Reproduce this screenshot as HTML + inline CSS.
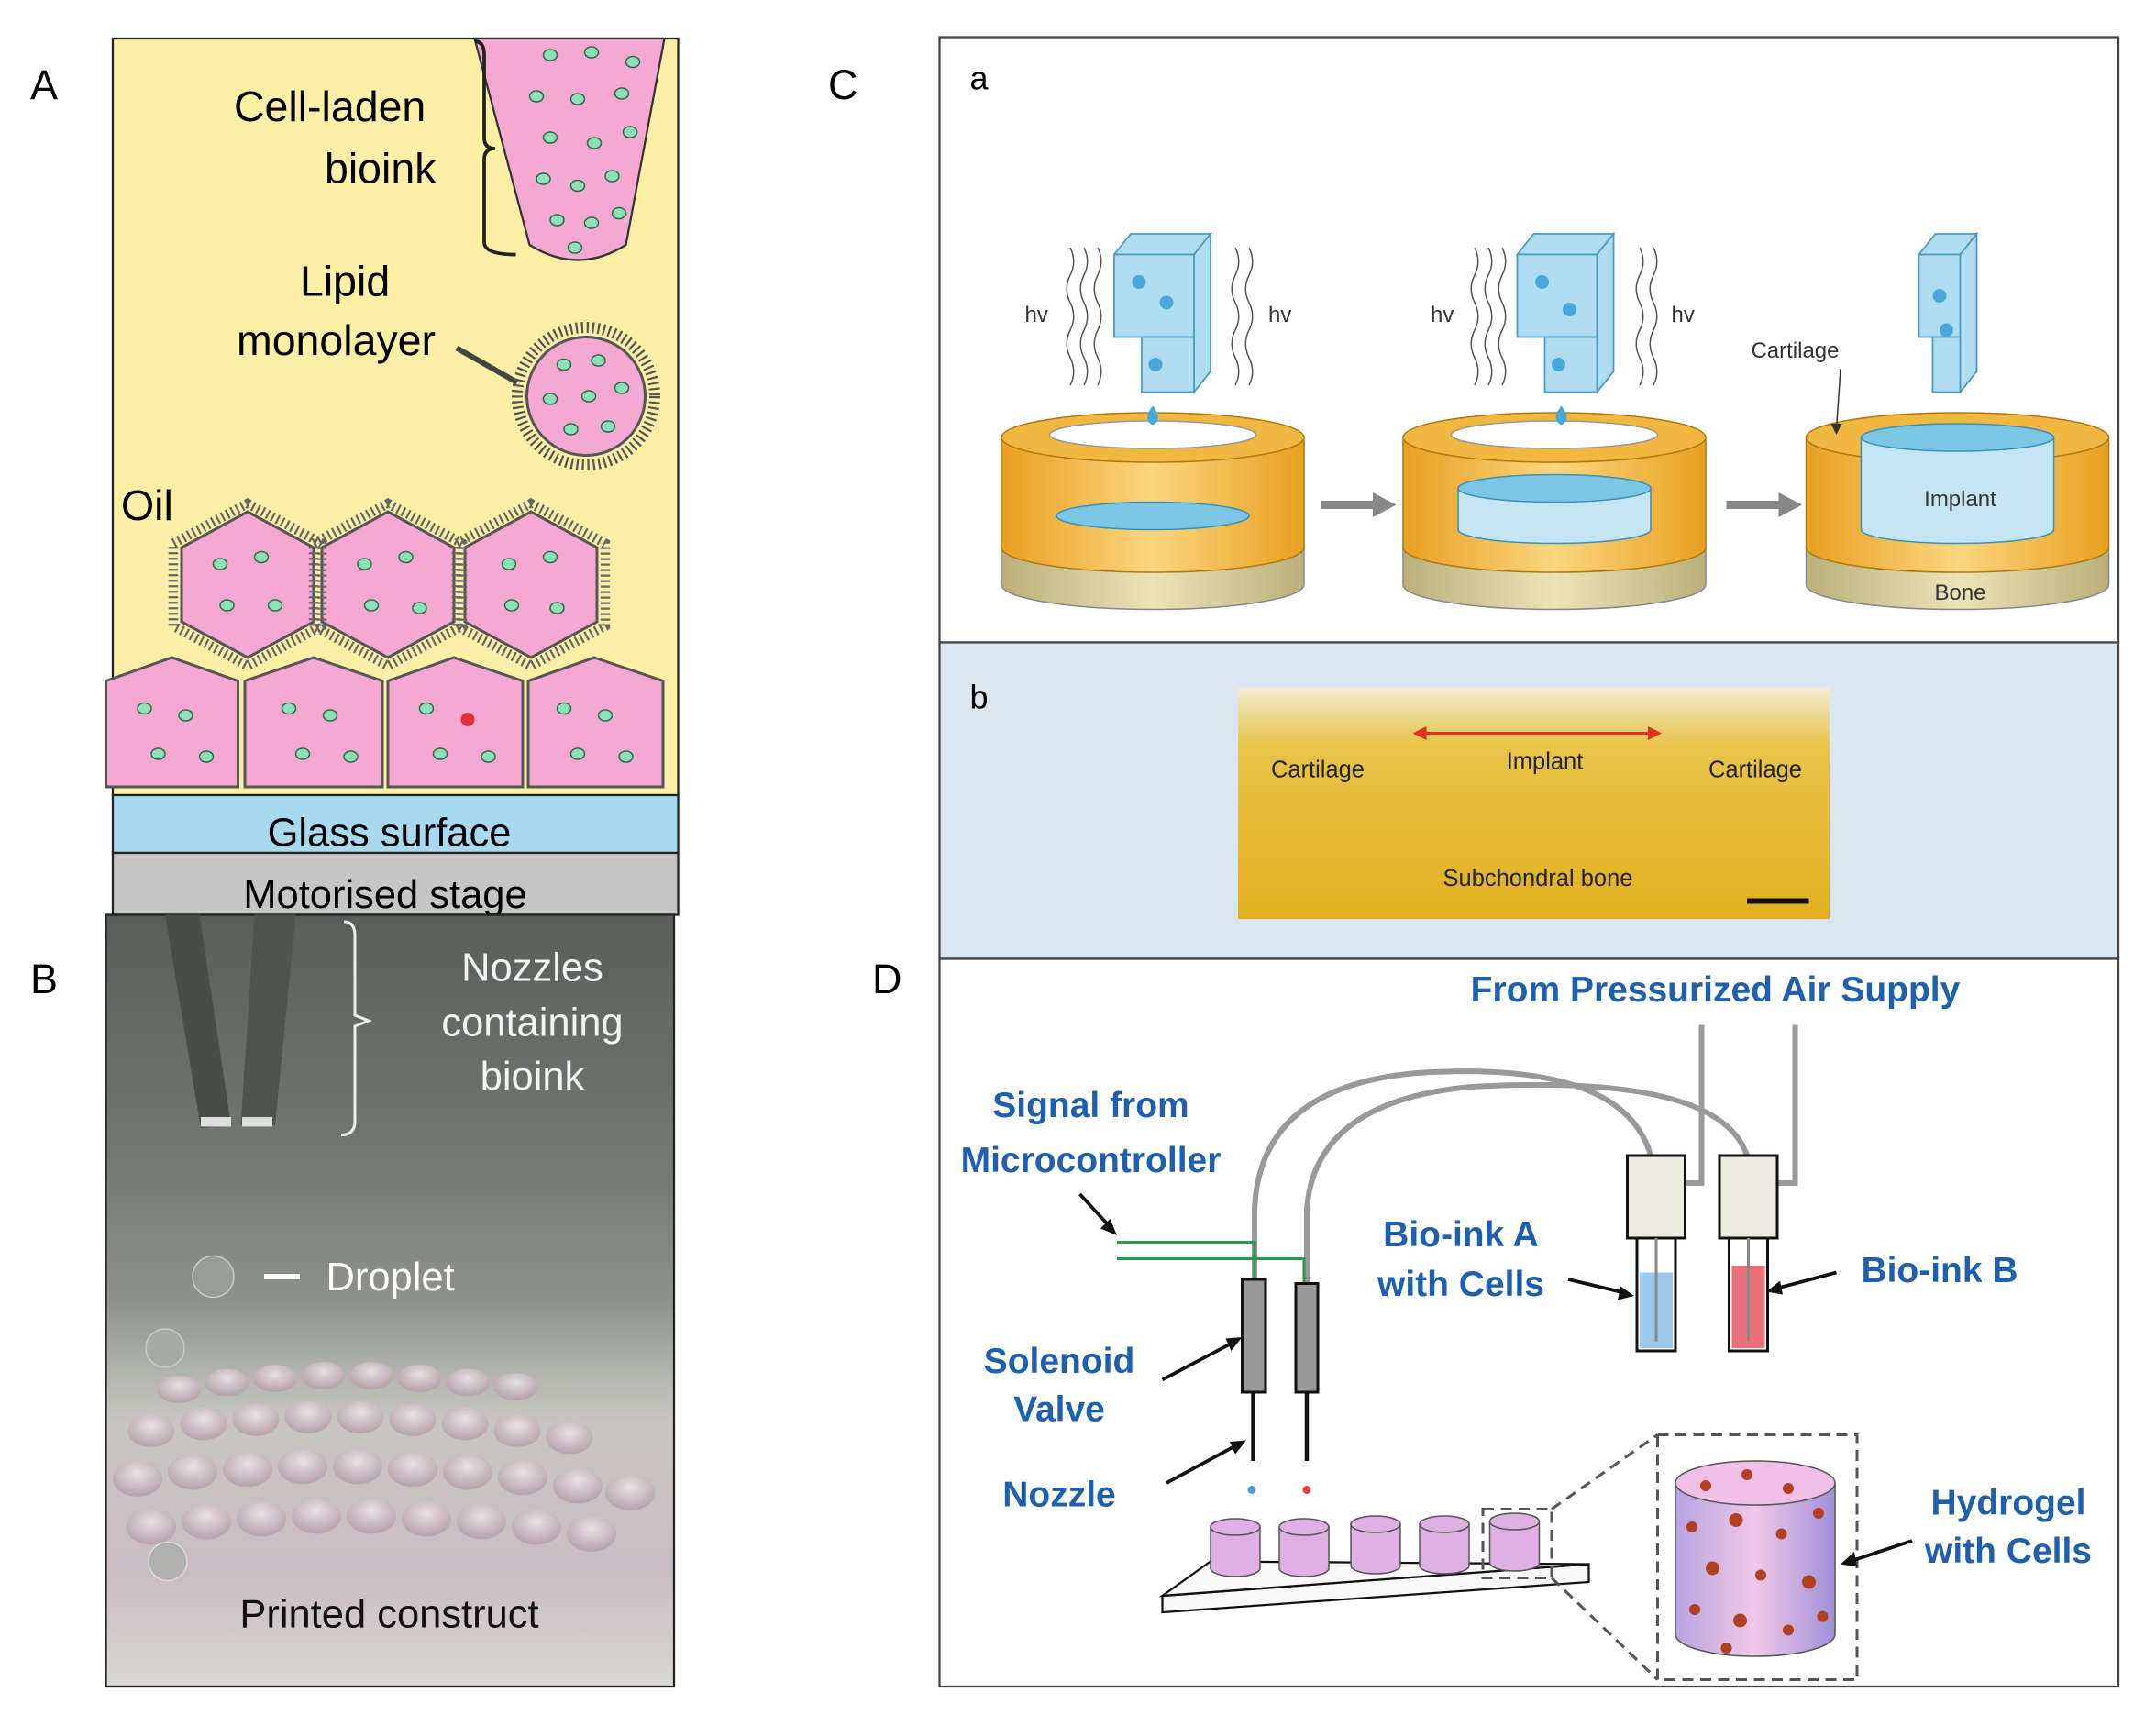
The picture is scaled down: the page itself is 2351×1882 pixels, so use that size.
<!DOCTYPE html>
<html><head><meta charset="utf-8"><style>
html,body{margin:0;padding:0;background:#fff}
svg{display:block}
text{font-family:"Liberation Sans",sans-serif}
</style></head><body>
<svg width="2351" height="1882" viewBox="0 0 1567.33 1254.67" preserveAspectRatio="none" xmlns="http://www.w3.org/2000/svg">
<defs>
<linearGradient id="gB" x1="0" y1="0" x2="0" y2="1">
<stop offset="0" stop-color="#5a5e5a"/><stop offset="0.3" stop-color="#737772"/>
<stop offset="0.5" stop-color="#8e918c"/><stop offset="0.6" stop-color="#b4b6b0"/>
<stop offset="0.66" stop-color="#c8c6c2"/><stop offset="0.85" stop-color="#c9bcc2"/><stop offset="1" stop-color="#d8d8d4"/></linearGradient>
<linearGradient id="gY" x1="0" y1="0" x2="0" y2="1">
<stop offset="0" stop-color="#f3ecd0"/><stop offset="0.25" stop-color="#e8c44a"/>
<stop offset="1" stop-color="#e2b020"/></linearGradient>
<linearGradient id="gO" x1="0" y1="0" x2="1" y2="0">
<stop offset="0" stop-color="#e8a020"/><stop offset="0.5" stop-color="#fbd680"/><stop offset="1" stop-color="#e8a020"/></linearGradient>
<linearGradient id="gT" x1="0" y1="0" x2="1" y2="0">
<stop offset="0" stop-color="#b9b07a"/><stop offset="0.5" stop-color="#ece4b8"/><stop offset="1" stop-color="#b9b07a"/></linearGradient>
<linearGradient id="gP" x1="0" y1="0" x2="1" y2="0">
<stop offset="0" stop-color="#b7a4e0"/><stop offset="0.5" stop-color="#f0c8e8"/><stop offset="1" stop-color="#a090d8"/></linearGradient>
<radialGradient id="gBub" cx="0.5" cy="0.35" r="0.6">
<stop offset="0" stop-color="#eee8ea"/><stop offset="1" stop-color="#b8a0ac"/></radialGradient>
</defs>

<text x="22" y="72" font-size="30">A</text>
<text x="22" y="722" font-size="30">B</text>
<text x="602" y="72" font-size="30">C</text>
<text x="634" y="722" font-size="30">D</text>

<!-- Panel A -->
<rect x="82" y="28" width="411" height="550" fill="#fdf0a6" stroke="#222" stroke-width="1.5"/>
<rect x="82" y="578" width="411" height="42" fill="#a9d9f0" stroke="#222" stroke-width="1.5"/>
<rect x="82" y="620" width="411" height="45" fill="#c6c6c6" stroke="#222" stroke-width="1.5"/>
<text x="283" y="615" font-size="29" text-anchor="middle">Glass surface</text>
<text x="280" y="660" font-size="29" text-anchor="middle">Motorised stage</text>
<path d="M345 28 L483 28 L455 178 Q420 200 385 178 Z" fill="#f4a8d2" stroke="#333" stroke-width="1.5"/>
<g fill="#8ee0b8" stroke="#2a6a4a" stroke-width="1">
<ellipse cx="400" cy="40" rx="5" ry="4"/><ellipse cx="430" cy="38" rx="5" ry="4"/><ellipse cx="460" cy="45" rx="5" ry="4"/>
<ellipse cx="390" cy="70" rx="5" ry="4"/><ellipse cx="420" cy="72" rx="5" ry="4"/><ellipse cx="452" cy="68" rx="5" ry="4"/>
<ellipse cx="400" cy="100" rx="5" ry="4"/><ellipse cx="432" cy="104" rx="5" ry="4"/><ellipse cx="458" cy="96" rx="5" ry="4"/>
<ellipse cx="395" cy="130" rx="5" ry="4"/><ellipse cx="420" cy="135" rx="5" ry="4"/><ellipse cx="445" cy="128" rx="5" ry="4"/>
<ellipse cx="405" cy="160" rx="5" ry="4"/><ellipse cx="430" cy="162" rx="5" ry="4"/><ellipse cx="450" cy="155" rx="5" ry="4"/><ellipse cx="418" cy="180" rx="5" ry="4"/>
</g>
<path d="M345 30 Q352 30 352 40 L352 100 Q352 108 360 108 Q352 108 352 116 L352 176 Q352 185 375 185" fill="none" stroke="#222" stroke-width="2.5"/>
<text x="170" y="88" font-size="31">Cell-laden</text>
<text x="236" y="133" font-size="31">bioink</text>
<text x="218" y="215" font-size="31">Lipid</text>
<text x="172" y="258" font-size="31">monolayer</text>
<line x1="332" y1="253" x2="376" y2="278" stroke="#444" stroke-width="4"/>
<circle cx="426" cy="288" r="50" fill="none" stroke="#555" stroke-width="8" stroke-dasharray="1.5 2.5"/>
<circle cx="426" cy="288" r="43" fill="#f4a8d2" stroke="#555" stroke-width="2"/>
<g fill="#8ee0b8" stroke="#2a6a4a" stroke-width="1">
<ellipse cx="410" cy="265" rx="5" ry="4"/><ellipse cx="435" cy="262" rx="5" ry="4"/><ellipse cx="400" cy="290" rx="5" ry="4"/>
<ellipse cx="428" cy="288" rx="5" ry="4"/><ellipse cx="452" cy="282" rx="5" ry="4"/><ellipse cx="415" cy="312" rx="5" ry="4"/><ellipse cx="442" cy="310" rx="5" ry="4"/>
</g>
<text x="88" y="378" font-size="31">Oil</text>
<g fill="#f4a8d2" stroke="#555" stroke-width="2">
<polygon points="180,372 228,398 228,452 180,478 132,452 132,398"/>
<polygon points="282,372 330,398 330,452 282,478 234,452 234,398"/>
<polygon points="386,372 434,398 434,452 386,478 338,452 338,398"/>
<polygon points="125,478 173,495 173,572 77,572 77,495"/>
<polygon points="228,478 278,495 278,572 178,572 178,495"/>
<polygon points="330,478 380,495 380,572 282,572 282,495"/>
<polygon points="432,478 482,495 482,572 384,572 384,495"/>
</g>
<g fill="none" stroke="#666" stroke-width="7" stroke-dasharray="1.5 2.5">
<polygon points="180,366 234,395 234,455 180,484 126,455 126,395"/>
<polygon points="282,366 336,395 336,455 282,484 228,455 228,395"/>
<polygon points="386,366 440,395 440,455 386,484 332,455 332,395"/>
</g>
<g fill="#8ee0b8" stroke="#2a6a4a" stroke-width="1">
<ellipse cx="160" cy="410" rx="5" ry="4"/><ellipse cx="190" cy="405" rx="5" ry="4"/><ellipse cx="165" cy="440" rx="5" ry="4"/><ellipse cx="200" cy="440" rx="5" ry="4"/>
<ellipse cx="265" cy="410" rx="5" ry="4"/><ellipse cx="295" cy="405" rx="5" ry="4"/><ellipse cx="270" cy="440" rx="5" ry="4"/><ellipse cx="305" cy="442" rx="5" ry="4"/>
<ellipse cx="370" cy="410" rx="5" ry="4"/><ellipse cx="400" cy="405" rx="5" ry="4"/><ellipse cx="372" cy="440" rx="5" ry="4"/><ellipse cx="405" cy="442" rx="5" ry="4"/>
<ellipse cx="105" cy="515" rx="5" ry="4"/><ellipse cx="135" cy="520" rx="5" ry="4"/><ellipse cx="115" cy="548" rx="5" ry="4"/><ellipse cx="150" cy="550" rx="5" ry="4"/>
<ellipse cx="210" cy="515" rx="5" ry="4"/><ellipse cx="240" cy="520" rx="5" ry="4"/><ellipse cx="220" cy="548" rx="5" ry="4"/><ellipse cx="255" cy="550" rx="5" ry="4"/>
<ellipse cx="310" cy="515" rx="5" ry="4"/><ellipse cx="320" cy="548" rx="5" ry="4"/><ellipse cx="355" cy="550" rx="5" ry="4"/>
<ellipse cx="410" cy="515" rx="5" ry="4"/><ellipse cx="440" cy="520" rx="5" ry="4"/><ellipse cx="420" cy="548" rx="5" ry="4"/><ellipse cx="455" cy="550" rx="5" ry="4"/>
</g>
<circle cx="340" cy="523" r="5" fill="#e03040"/>

<!-- Panel B -->
<rect x="77" y="665" width="413" height="561" fill="url(#gB)" stroke="#222" stroke-width="1.5"/>
<g fill="url(#gBub)" opacity="0.85">
<ellipse cx="130" cy="1010" rx="16" ry="10"/><ellipse cx="165" cy="1005" rx="16" ry="10"/><ellipse cx="200" cy="1002" rx="16" ry="10"/><ellipse cx="235" cy="1000" rx="16" ry="10"/><ellipse cx="270" cy="1000" rx="16" ry="10"/><ellipse cx="305" cy="1002" rx="16" ry="10"/><ellipse cx="340" cy="1005" rx="16" ry="10"/><ellipse cx="375" cy="1008" rx="16" ry="10"/>
<ellipse cx="110" cy="1040" rx="17" ry="12"/><ellipse cx="148" cy="1035" rx="17" ry="12"/><ellipse cx="186" cy="1032" rx="17" ry="12"/><ellipse cx="224" cy="1030" rx="17" ry="12"/><ellipse cx="262" cy="1030" rx="17" ry="12"/><ellipse cx="300" cy="1032" rx="17" ry="12"/><ellipse cx="338" cy="1035" rx="17" ry="12"/><ellipse cx="376" cy="1040" rx="17" ry="12"/><ellipse cx="414" cy="1045" rx="17" ry="12"/>
<ellipse cx="100" cy="1075" rx="18" ry="13"/><ellipse cx="140" cy="1070" rx="18" ry="13"/><ellipse cx="180" cy="1068" rx="18" ry="13"/><ellipse cx="220" cy="1066" rx="18" ry="13"/><ellipse cx="260" cy="1066" rx="18" ry="13"/><ellipse cx="300" cy="1068" rx="18" ry="13"/><ellipse cx="340" cy="1070" rx="18" ry="13"/><ellipse cx="380" cy="1074" rx="18" ry="13"/><ellipse cx="420" cy="1080" rx="18" ry="13"/><ellipse cx="458" cy="1085" rx="18" ry="13"/>
<ellipse cx="110" cy="1110" rx="18" ry="13"/><ellipse cx="150" cy="1106" rx="18" ry="13"/><ellipse cx="190" cy="1104" rx="18" ry="13"/><ellipse cx="230" cy="1102" rx="18" ry="13"/><ellipse cx="270" cy="1102" rx="18" ry="13"/><ellipse cx="310" cy="1104" rx="18" ry="13"/><ellipse cx="350" cy="1106" rx="18" ry="13"/><ellipse cx="390" cy="1110" rx="18" ry="13"/><ellipse cx="430" cy="1115" rx="18" ry="13"/>
</g>
<circle cx="122" cy="1135" r="14" fill="#b0b0ae" stroke="#ddd"/>
<polygon points="120,665 145,665 168,818 146,820" fill="#4a4c4a"/>
<polygon points="185,665 215,665 200,818 175,818" fill="#505250"/>
<rect x="146" y="812" width="22" height="7" fill="#ddd"/><rect x="176" y="812" width="22" height="7" fill="#ddd"/>
<path d="M250 670 Q258 670 258 680 L258 738 L268 742 L258 746 L258 815 Q258 825 248 825" fill="none" stroke="#eee" stroke-width="2"/>
<g fill="#f4f4f4" font-size="29" text-anchor="middle">
<text x="387" y="713">Nozzles</text><text x="387" y="753">containing</text><text x="387" y="792">bioink</text></g>
<circle cx="155" cy="928" r="15" fill="#9a9c98" stroke="#ccc"/>
<circle cx="120" cy="980" r="14" fill="#a8aaa6" stroke="#ccc"/>
<rect x="192" y="926" width="26" height="4" fill="#fff"/>
<text x="237" y="938" font-size="29" fill="#fff">Droplet</text>
<text x="283" y="1183" font-size="29" text-anchor="middle" fill="#111">Printed construct</text>

<!-- Panel C -->
<rect x="683" y="27" width="857" height="440" fill="#fff" stroke="#444" stroke-width="1.5"/>
<rect x="683" y="467" width="857" height="230" fill="#dbe7f0" stroke="#444" stroke-width="1.5"/>
<text x="705" y="65" font-size="24">a</text>
<text x="705" y="515" font-size="24">b</text>
<g>
<path d="M728 398 L728 425 A110 18 0 0 0 948 425 L948 398 Z" fill="url(#gT)" stroke="#888"/>
<path d="M728 318 L728 398 A110 18 0 0 0 948 398 L948 318 Z" fill="url(#gO)" stroke="#b07810"/>
<ellipse cx="838" cy="318" rx="110" ry="18" fill="#f0b840" stroke="#b07810"/>
<ellipse cx="838" cy="316" rx="75" ry="10" fill="#fff" stroke="#999"/>
<ellipse cx="838" cy="375" rx="70" ry="10" fill="#7cc6e6" stroke="#3a90b8"/>
<path d="M1020 398 L1020 425 A110 18 0 0 0 1240 425 L1240 398 Z" fill="url(#gT)" stroke="#888"/>
<path d="M1020 318 L1020 398 A110 18 0 0 0 1240 398 L1240 318 Z" fill="url(#gO)" stroke="#b07810"/>
<ellipse cx="1130" cy="318" rx="110" ry="18" fill="#f0b840" stroke="#b07810"/>
<ellipse cx="1130" cy="316" rx="75" ry="10" fill="#fff" stroke="#999"/>
<path d="M1060 355 L1060 385 A70 10 0 0 0 1200 385 L1200 355 Z" fill="#c4e6f4" stroke="#3a90b8"/>
<ellipse cx="1130" cy="355" rx="70" ry="10" fill="#7cc6e6" stroke="#3a90b8"/>
<path d="M1313 398 L1313 425 A110 18 0 0 0 1533 425 L1533 398 Z" fill="url(#gT)" stroke="#888"/>
<path d="M1313 318 L1313 398 A110 18 0 0 0 1533 398 L1533 318 Z" fill="url(#gO)" stroke="#b07810"/>
<ellipse cx="1423" cy="318" rx="110" ry="18" fill="#f0b840" stroke="#b07810"/>
<path d="M1353 318 L1353 385 A70 10 0 0 0 1493 385 L1493 318 Z" fill="#c4e6f4" stroke="#3a90b8"/>
<ellipse cx="1423" cy="318" rx="70" ry="10" fill="#7cc6e6" stroke="#3a90b8"/>
</g>
<g fill="#a8daf0" stroke="#3a90b8" stroke-width="1.2" opacity="0.9">
<polygon points="810,185 868,185 880,170 822,170"/><rect x="810" y="185" width="58" height="60"/><polygon points="868,185 880,170 880,270 868,285"/><rect x="830" y="245" width="38" height="40"/>
<polygon points="1103,185 1161,185 1173,170 1115,170"/><rect x="1103" y="185" width="58" height="60"/><polygon points="1161,185 1173,170 1173,270 1161,285"/><rect x="1123" y="245" width="38" height="40"/>
<polygon points="1395,185 1425,185 1437,170 1407,170"/><rect x="1395" y="185" width="30" height="60"/><polygon points="1425,185 1437,170 1437,270 1425,285"/><rect x="1405" y="245" width="20" height="40"/>
</g>
<g fill="#4aa8d8"><circle cx="828" cy="205" r="5"/><circle cx="848" cy="220" r="5"/><circle cx="840" cy="265" r="5"/><circle cx="1121" cy="205" r="5"/><circle cx="1141" cy="225" r="5"/><circle cx="1133" cy="265" r="5"/><circle cx="1410" cy="215" r="5"/><circle cx="1415" cy="240" r="5"/>
<path d="M838 295 q-8 10 0 14 q8 -4 0 -14z"/><path d="M1135 295 q-8 10 0 14 q8 -4 0 -14z"/></g>
<g fill="none" stroke="#555" stroke-width="1">
<path d="M778 180 q5 10 0 20 q-5 10 0 20 q5 10 0 20 q-5 10 0 20 q5 10 0 20"/><path d="M788 180 q5 10 0 20 q-5 10 0 20 q5 10 0 20 q-5 10 0 20 q5 10 0 20"/><path d="M798 180 q5 10 0 20 q-5 10 0 20 q5 10 0 20 q-5 10 0 20 q5 10 0 20"/>
<path d="M898 180 q5 10 0 20 q-5 10 0 20 q5 10 0 20 q-5 10 0 20 q5 10 0 20"/><path d="M908 180 q5 10 0 20 q-5 10 0 20 q5 10 0 20 q-5 10 0 20 q5 10 0 20"/>
<path d="M1072 180 q5 10 0 20 q-5 10 0 20 q5 10 0 20 q-5 10 0 20 q5 10 0 20"/><path d="M1082 180 q5 10 0 20 q-5 10 0 20 q5 10 0 20 q-5 10 0 20 q5 10 0 20"/><path d="M1092 180 q5 10 0 20 q-5 10 0 20 q5 10 0 20 q-5 10 0 20 q5 10 0 20"/>
<path d="M1192 180 q5 10 0 20 q-5 10 0 20 q5 10 0 20 q-5 10 0 20 q5 10 0 20"/><path d="M1202 180 q5 10 0 20 q-5 10 0 20 q5 10 0 20 q-5 10 0 20 q5 10 0 20"/>
</g>
<g font-size="16" fill="#333"><text x="745" y="234">hv</text><text x="922" y="234">hv</text><text x="1040" y="234">hv</text><text x="1215" y="234">hv</text>
<text x="1273" y="260">Cartilage</text><text x="1425" y="368" text-anchor="middle">Implant</text><text x="1425" y="436" text-anchor="middle">Bone</text></g>
<line x1="1338" y1="268" x2="1335" y2="312" stroke="#333"/><polygon points="1331,308 1339,308 1335,316" fill="#333"/>
<g fill="#888"><rect x="960" y="364" width="40" height="6"/><polygon points="998,358 1015,367 998,376"/><rect x="1255" y="364" width="40" height="6"/><polygon points="1293,358 1310,367 1293,376"/></g>
<rect x="900" y="500" width="430" height="168" fill="url(#gY)"/>
<line x1="1030" y1="533" x2="1205" y2="533" stroke="#e03020" stroke-width="2"/>
<polygon points="1027,533 1037,528 1037,538" fill="#e03020"/><polygon points="1208,533 1198,528 1198,538" fill="#e03020"/>
<g font-size="17" fill="#222"><text x="958" y="565" text-anchor="middle">Cartilage</text><text x="1123" y="559" text-anchor="middle">Implant</text><text x="1276" y="565" text-anchor="middle">Cartilage</text><text x="1118" y="644" text-anchor="middle">Subchondral bone</text></g>
<rect x="1270" y="653" width="45" height="4" fill="#111"/>

<!-- Panel D -->
<rect x="683" y="697" width="857" height="529" fill="#fff" stroke="#444" stroke-width="1.5"/>
<g fill="#1f5fb0" font-weight="bold" font-size="26">
<text x="1247" y="728" text-anchor="middle">From Pressurized Air Supply</text>
<text x="793" y="812" text-anchor="middle">Signal from</text>
<text x="793" y="852" text-anchor="middle">Microcontroller</text>
<text x="1062" y="906" text-anchor="middle">Bio-ink A</text>
<text x="1062" y="942" text-anchor="middle">with Cells</text>
<text x="1410" y="932" text-anchor="middle">Bio-ink B</text>
<text x="770" y="998" text-anchor="middle">Solenoid</text>
<text x="770" y="1033" text-anchor="middle">Valve</text>
<text x="770" y="1095" text-anchor="middle">Nozzle</text>
<text x="1460" y="1101" text-anchor="middle">Hydrogel</text>
<text x="1460" y="1136" text-anchor="middle">with Cells</text>
</g>
<g fill="none" stroke="#999" stroke-width="4">
<path d="M912 930 L912 880 Q915 790 1030 780 Q1180 770 1200 840"/>
<path d="M950 932 L950 880 Q955 800 1070 790 Q1250 780 1270 840"/>
<path d="M1237 745 L1237 860 L1225 860"/><path d="M1305 745 L1305 860 L1292 860"/>
</g>
<g fill="none" stroke="#2a9a4a" stroke-width="2"><path d="M812 903 L912 903 L912 930"/><path d="M812 915 L948 915 L948 932"/></g>
<line x1="785" y1="868" x2="808" y2="893" stroke="#111" stroke-width="2.5"/><polygon points="812,898 800,893 807,886" fill="#111"/>
<rect x="1183" y="840" width="42" height="60" fill="#ecece0" stroke="#111" stroke-width="2"/>
<rect x="1250" y="840" width="42" height="60" fill="#ecece0" stroke="#111" stroke-width="2"/>
<rect x="1190" y="900" width="28" height="82" fill="#fff" stroke="#111" stroke-width="2"/>
<rect x="1192" y="925" width="24" height="55" fill="#9cc8ec"/>
<rect x="1257" y="900" width="28" height="82" fill="#fff" stroke="#111" stroke-width="2"/>
<rect x="1259" y="920" width="24" height="60" fill="#e8707a"/>
<line x1="1204" y1="900" x2="1204" y2="975" stroke="#888" stroke-width="2"/><line x1="1271" y1="900" x2="1271" y2="975" stroke="#888" stroke-width="2"/>
<line x1="1140" y1="930" x2="1182" y2="940" stroke="#111" stroke-width="2.5"/><polygon points="1188,942 1176,945 1178,935" fill="#111"/>
<line x1="1335" y1="925" x2="1290" y2="937" stroke="#111" stroke-width="2.5"/><polygon points="1284,939 1294,931 1296,941" fill="#111"/>
<rect x="903" y="930" width="17" height="82" fill="#999" stroke="#111" stroke-width="2"/>
<rect x="942" y="933" width="16" height="79" fill="#999" stroke="#111" stroke-width="2"/>
<line x1="911" y1="1012" x2="911" y2="1062" stroke="#111" stroke-width="3"/><line x1="950" y1="1012" x2="950" y2="1062" stroke="#111" stroke-width="3"/>
<circle cx="910" cy="1083" r="3" fill="#4a9ad8"/><circle cx="950" cy="1083" r="3" fill="#e04050"/>
<line x1="845" y1="1003" x2="898" y2="975" stroke="#111" stroke-width="2.5"/><polygon points="903,972 895,982 891,973" fill="#111"/>
<line x1="848" y1="1078" x2="900" y2="1050" stroke="#111" stroke-width="2.5"/><polygon points="906,1047 898,1057 894,1048" fill="#111"/>
<polygon points="845,1160 1155,1137 1155,1150 845,1172" fill="#f8f8f8" stroke="#111" stroke-width="1.5"/>
<polygon points="845,1160 880,1135 1155,1137" fill="#fafafa" stroke="#111" stroke-width="1.5"/>
<g fill="#e0b0e4" stroke="#555">
<path d="M880 1110 L880 1140 A18 6 0 0 0 916 1140 L916 1110Z"/><ellipse cx="898" cy="1110" rx="18" ry="6"/>
<path d="M930 1110 L930 1140 A18 6 0 0 0 966 1140 L966 1110Z"/><ellipse cx="948" cy="1110" rx="18" ry="6"/>
<path d="M982 1108 L982 1138 A18 6 0 0 0 1018 1138 L1018 1108Z"/><ellipse cx="1000" cy="1108" rx="18" ry="6"/>
<path d="M1032 1108 L1032 1138 A18 6 0 0 0 1068 1138 L1068 1108Z"/><ellipse cx="1050" cy="1108" rx="18" ry="6"/>
<path d="M1083 1106 L1083 1136 A18 6 0 0 0 1119 1136 L1119 1106Z"/><ellipse cx="1101" cy="1106" rx="18" ry="6"/>
</g>
<g fill="none" stroke="#555" stroke-width="2" stroke-dasharray="8 5">
<rect x="1078" y="1097" width="50" height="50"/>
<rect x="1205" y="1043" width="145" height="178"/>
<line x1="1128" y1="1097" x2="1205" y2="1043"/><line x1="1128" y1="1147" x2="1205" y2="1221"/>
</g>
<path d="M1218 1078 L1218 1188 A58 16 0 0 0 1334 1188 L1334 1078 Z" fill="url(#gP)" stroke="#555"/>
<ellipse cx="1276" cy="1078" rx="58" ry="16" fill="#f0c0e8" stroke="#555"/>
<g fill="#b04020">
<circle cx="1240" cy="1080" r="4"/><circle cx="1270" cy="1072" r="4"/><circle cx="1300" cy="1082" r="4"/><circle cx="1230" cy="1110" r="4"/><circle cx="1262" cy="1105" r="5"/><circle cx="1295" cy="1115" r="4"/><circle cx="1322" cy="1100" r="4"/><circle cx="1245" cy="1140" r="5"/><circle cx="1280" cy="1145" r="4"/><circle cx="1315" cy="1150" r="5"/><circle cx="1232" cy="1170" r="4"/><circle cx="1265" cy="1178" r="5"/><circle cx="1300" cy="1185" r="4"/><circle cx="1325" cy="1175" r="4"/><circle cx="1255" cy="1198" r="4"/>
</g>
<line x1="1390" y1="1120" x2="1345" y2="1135" stroke="#111" stroke-width="2.5"/><polygon points="1338,1137 1348,1128 1350,1139" fill="#111"/>
</svg>
</body></html>
